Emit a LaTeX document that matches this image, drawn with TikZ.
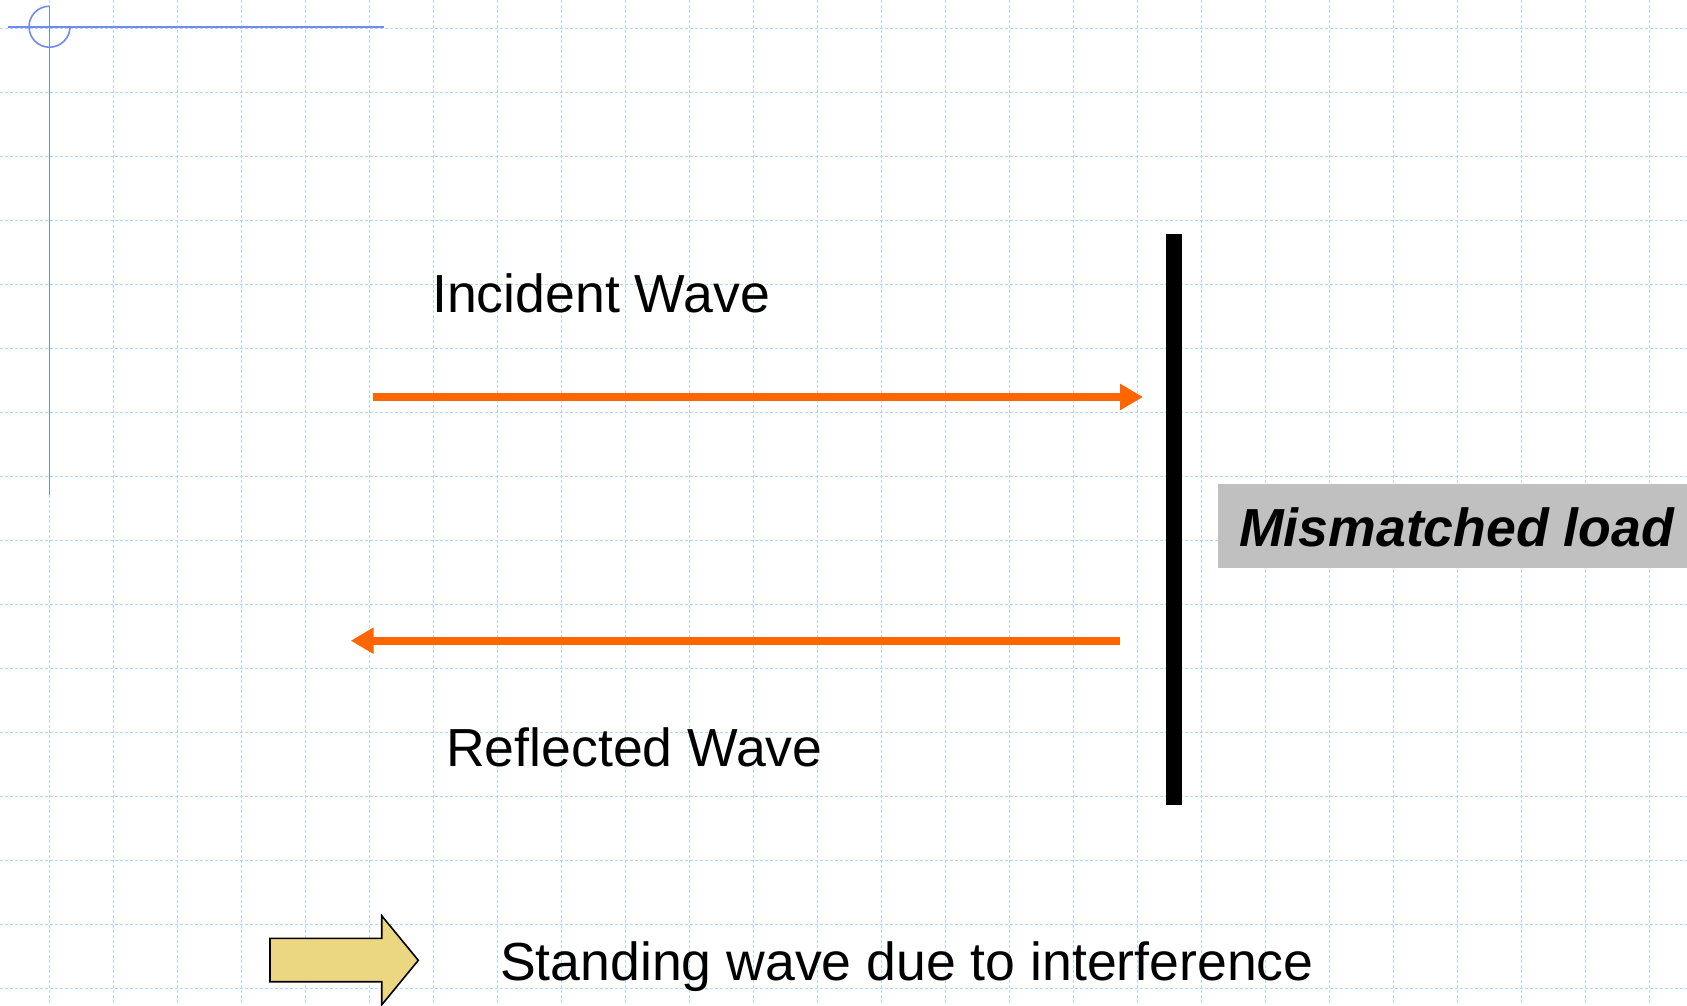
\documentclass[tikz,border=0pt]{standalone}
\usepackage{fontspec}
\setmainfont{Liberation Sans}
\usetikzlibrary{arrows.meta}
\definecolor{gridblue}{RGB}{180,214,250}
\definecolor{cornerblue}{RGB}{110,140,240}
\definecolor{waveorange}{RGB}{255,102,0}
\definecolor{loadgray}{RGB}{192,192,192}
\definecolor{blockyellow}{RGB}{235,215,130}
\tikzset{
  gridline/.style={draw=gridblue, line width=1pt, dash pattern=on 3pt off 2pt},
  cornerline/.style={draw=cornerblue, line width=1.6pt},
  wavearrow/.style={draw=waveorange, line width=8pt, -{Triangle[length=23pt,width=25pt]}},
  label/.style={anchor=base west, inner sep=0pt, font=\fontsize{53.6}{60}\selectfont},
  loadlabel/.style={anchor=base west, inner sep=0pt, font=\fontsize{53.6}{60}\selectfont\bfseries\itshape},
}
\begin{document}
\begin{tikzpicture}[x=1pt,y=-1pt]
\useasboundingbox (0,0) rectangle (1687,1005);
\fill[white] (0,0) rectangle (1687,1005);
% grid
\foreach \k in {0,...,25} { \draw[gridline] ({49.5+64*\k},0) -- ({49.5+64*\k},1005); }
\foreach \k in {0,...,15} { \draw[gridline] (0,{28.5+64*\k}) -- (1687,{28.5+64*\k}); }
% corner mark
\draw[cornerline] (8,26.7) -- (384,26.7);
\draw[cornerline] (49.5,6) -- (49.5,495);
\draw[cornerline] (49.5,6.2) arc[start angle=-90, end angle=-360, radius=20.5];
% load bar
\node (bar) [fill=black, inner sep=0pt, minimum width=16pt, minimum height=571pt, anchor=north west] at (1166,234) {};
% mismatched load box
\node (loadbox) [fill=loadgray, inner sep=0pt, minimum width=470pt, minimum height=84pt, anchor=north west] at (1217.7,484) {};
\node (load) [loadlabel] at (1239,546) {Mismatched load};
% waves
\coordinate (incA) at (373,397);
\coordinate (incB) at (1143,397);
\coordinate (refA) at (1120,640.7);
\coordinate (refB) at (350.7,640.7);
\draw[wavearrow] (incA) -- (incB);
\draw[wavearrow] (refA) -- (refB);
\node (inc) [label] at (432,312.7) {Incident Wave};
\node (ref) [label] at (446,766.7) {Reflected Wave};
% block arrow
\draw[fill=blockyellow, draw=black, line width=1.6pt, line join=miter]
  (270,938.3) -- (381.7,938.3) -- (381.7,915.7) -- (418.3,960.3) -- (381.7,1004.9)
  -- (381.7,981.7) -- (270,981.7) -- cycle;
\coordinate (blockarrow) at (344,960.3);
\node (stand) [label] at (500,980) {Standing wave due to interference};
\end{tikzpicture}
\end{document}
